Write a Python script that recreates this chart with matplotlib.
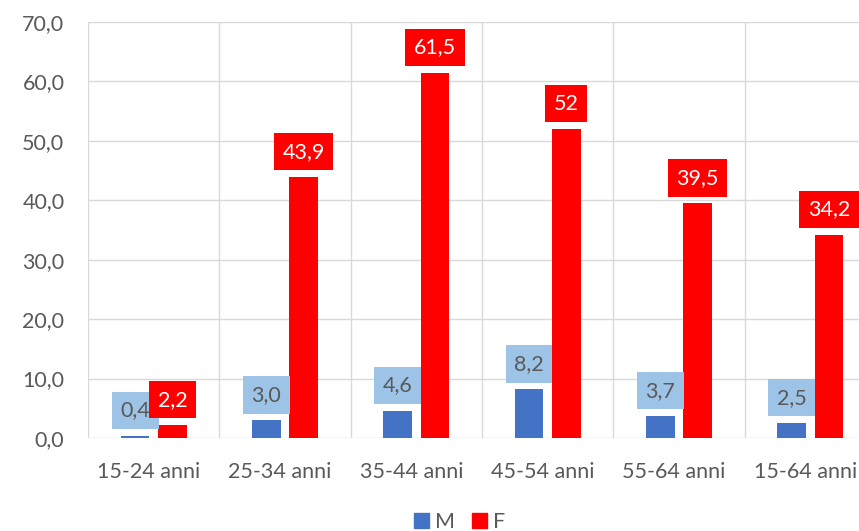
import matplotlib.pyplot as plt
import numpy as np
from matplotlib.patches import Patch
from matplotlib.transforms import ScaledTranslation

categorie = ["15-24 anni", "25-34 anni", "35-44 anni", "45-54 anni", "55-64 anni", "15-64 anni"]
m_vals = [0.4, 3.0, 4.6, 8.2, 3.7, 2.5]
f_vals = [2.2, 43.9, 61.5, 52, 39.5, 34.2]
m_labels = ["0,4", "3,0", "4,6", "8,2", "3,7", "2,5"]
f_labels = ["2,2", "43,9", "61,5", "52", "39,5", "34,2"]

blu = "#4472C4"
rosso = "#FF0000"
azzurro = "#9DC3E6"
grigio = "#595959"

plt.rcParams["font.family"] = ["Lato", "DejaVu Sans"]
fs = 15.5

fig = plt.figure(figsize=(8.59, 5.31), dpi=100)
ax = fig.add_axes([88/859, 93/531, 788/859, 416/531])

x = np.arange(len(categorie))
w = 0.22
off = 0.142
ax.bar(x - off, m_vals, w, color=blu, zorder=3)
ax.bar(x + off, f_vals, w, color=rosso, zorder=3)

for xi, v, t in zip(x, m_vals, m_labels):
    ax.annotate(t, (xi - off, v), xytext=(0, 11), textcoords="offset points",
                ha="center", va="bottom", fontsize=fs, color=grigio, zorder=5,
                bbox=dict(boxstyle="square,pad=0.4", fc=azzurro, ec="none"))
for xi, v, t in zip(x, f_vals, f_labels):
    ax.annotate(t, (xi + off, v), xytext=(0, 11), textcoords="offset points",
                ha="center", va="bottom", fontsize=fs, color="white", zorder=6,
                bbox=dict(boxstyle="square,pad=0.4", fc=rosso, ec="none"))

ax.set_ylim(0, 70)
ax.set_xlim(-0.5, len(categorie) - 0.5)
ax.set_yticks(range(0, 71, 10))
ax.set_yticklabels([f"{v:.1f}".replace(".", ",") for v in range(0, 71, 10)])
ax.set_xticks(x)
ax.set_xticklabels(categorie)
ax.tick_params(axis="both", length=0, labelsize=fs, colors=grigio)
ax.yaxis.set_tick_params(pad=17)
ax.xaxis.set_tick_params(pad=17)
# etichette leggermente spostate a sinistra come in Excel
sposta = ScaledTranslation(-5/100, 0, fig.dpi_scale_trans)
for lab in ax.get_xticklabels():
    lab.set_transform(lab.get_transform() + sposta)

ax.grid(axis="y", color="#D9D9D9", linewidth=1.0, zorder=0)
for b in np.arange(-0.5, len(categorie), 1.0):
    ax.axvline(b, color="#D9D9D9", linewidth=1.0, zorder=0)
for s in ax.spines.values():
    s.set_visible(False)

handles = [Patch(color=blu, label="M"), Patch(color=rosso, label="F")]
fig.legend(handles=handles, loc="center", bbox_to_anchor=(0.535, 1 - 522/531),
           ncol=2, frameon=False, fontsize=fs, handlelength=0.7, handleheight=0.7,
           handletextpad=0.25, columnspacing=0.8, labelcolor=grigio)

fig.savefig("out.png", dpi=100)
